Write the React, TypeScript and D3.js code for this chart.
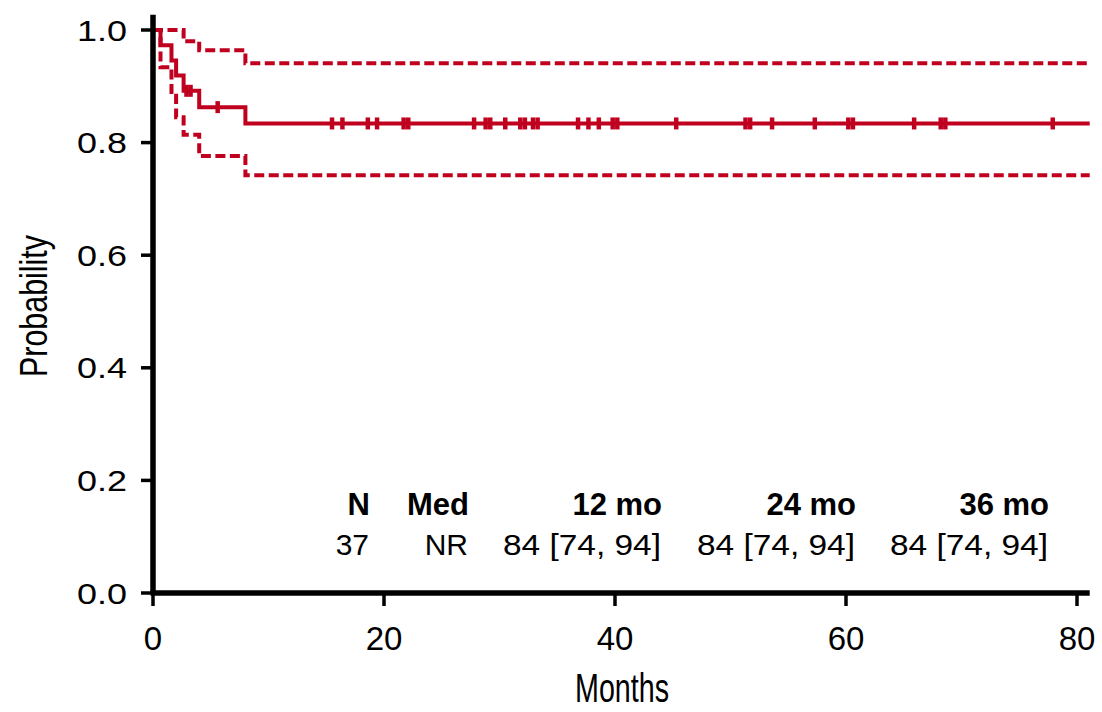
import React from 'react'
import * as d3 from 'd3'

// Kaplan-Meier estimate
const kmTimes = [0, 0.65, 1.6, 2.0, 2.65, 4.0, 8.0]
const kmSurv = [1.0, 0.973, 0.946, 0.919, 0.892, 0.863, 0.834]

const lowerTimes = [0, 0.65, 1.6, 2.0, 2.65, 4.0, 8.0]
const lowerSurv = [1.0, 0.934, 0.883, 0.845, 0.814, 0.776, 0.742]

const upperTimes = [0, 2.65, 4.0, 8.0]
const upperSurv = [1.0, 0.98, 0.964, 0.941]

// censored observations (months)
const censorTimes = [
  2.9, 3.25, 5.6, 15.5, 16.4, 18.6, 19.4, 21.7, 22.1, 27.8, 28.8, 29.2, 30.5,
  31.8, 32.2, 32.9, 33.3, 36.8, 37.7, 38.6, 39.8, 40.2, 45.3, 51.3, 51.7, 53.6,
  57.3, 60.2, 60.6, 65.9, 68.2, 68.6, 77.9
]

const xTicks = [0, 20, 40, 60, 80]
const yTicks = [0, 0.2, 0.4, 0.6, 0.8, 1.0]

const tableHeaders = ['N', 'Med', '12 mo', '24 mo', '36 mo']
const tableValues = ['37', 'NR', '84 [74, 94]', '84 [74, 94]', '84 [74, 94]']

const RED = '#C0001F'
const FONT = '"Liberation Sans", Arial, Helvetica, sans-serif'
const NARROW = '"Liberation Sans Narrow", "Arial Narrow", "Liberation Sans", sans-serif'

const W = 1102
const H = 712
const X_MAX = 81.1
const Y_MAX = 1.027

const x = d3.scaleLinear().domain([0, 80]).range([153, 1077])
const y = d3.scaleLinear().domain([0, 1]).range([593, 30])

const stepLine = d3
  .line<[number, number]>()
  .x(d => x(d[0]))
  .y(d => y(d[1]))
  .curve(d3.curveStepAfter)

function toPoints(times: number[], vals: number[]): [number, number][] {
  const pts: [number, number][] = times.map((t, i) => [t, vals[i]])
  pts.push([X_MAX, vals[vals.length - 1]])
  return pts
}

// survival value at time t from the step function
function survAt(t: number) {
  let v = kmSurv[0]
  kmTimes.forEach((tt, i) => {
    if (tt <= t) v = kmSurv[i]
  })
  return v
}

const colRight = [370, 469, 662, 856, 1049]

export default function App() {
  return (
    <svg
      width={W}
      height={H}
      style={{ position: 'absolute', left: 0, top: 0, background: '#fff' }}
    >
      {/* curves */}
      <path
        d={stepLine(toPoints(upperTimes, upperSurv)) || ''}
        fill="none"
        stroke={RED}
        strokeWidth={4}
        strokeDasharray="10 4.5"
      />
      <path
        d={stepLine(toPoints(lowerTimes, lowerSurv)) || ''}
        fill="none"
        stroke={RED}
        strokeWidth={4}
        strokeDasharray="10 4.5"
      />
      <path
        d={stepLine(toPoints(kmTimes, kmSurv)) || ''}
        fill="none"
        stroke={RED}
        strokeWidth={4}
      />
      {censorTimes.map((t, i) => (
        <line
          key={i}
          x1={x(t)}
          x2={x(t)}
          y1={y(survAt(t)) - 6}
          y2={y(survAt(t)) + 6}
          stroke={RED}
          strokeWidth={4.5}
        />
      ))}

      {/* y axis */}
      <line x1={x(0)} x2={x(0)} y1={y(Y_MAX)} y2={y(0)} stroke="#000" strokeWidth={5.5} />
      {yTicks.map(v => (
        <g key={v}>
          <line x1={x(0) - 12} x2={x(0)} y1={y(v)} y2={y(v)} stroke="#000" strokeWidth={3.5} />
          <text
            x={127}
            y={y(v) + 10.5}
            textAnchor="end"
            fontFamily={FONT}
            fontSize={30}
            textLength={50}
            lengthAdjust="spacingAndGlyphs"
          >
            {v.toFixed(1)}
          </text>
        </g>
      ))}

      {/* x axis */}
      <line x1={x(0) - 2.5} x2={x(X_MAX)} y1={y(0)} y2={y(0)} stroke="#000" strokeWidth={5.5} />
      {xTicks.map(v => (
        <g key={v}>
          <line x1={x(v)} x2={x(v)} y1={y(0)} y2={y(0) + 13} stroke="#000" strokeWidth={3.5} />
          <text x={x(v)} y={650} textAnchor="middle" fontFamily={FONT} fontSize={33}>
            {v}
          </text>
        </g>
      ))}

      {/* axis titles */}
      <text
        x={622}
        y={702}
        textAnchor="middle"
        fontFamily={NARROW}
        fontSize={40}
        textLength={94}
        lengthAdjust="spacingAndGlyphs"
      >
        Months
      </text>
      <text
        transform="translate(47,306) rotate(-90)"
        textAnchor="middle"
        fontFamily={NARROW}
        fontSize={38}
        textLength={142}
        lengthAdjust="spacingAndGlyphs"
      >
        Probability
      </text>

      {/* summary table */}
      {tableHeaders.map((h, i) => (
        <text
          key={'h' + i}
          x={colRight[i]}
          y={515}
          textAnchor="end"
          fontFamily={FONT}
          fontSize={31}
          fontWeight="bold"
        >
          {h}
        </text>
      ))}
      {tableValues.map((v, i) => (
        <text
          key={'v' + i}
          x={colRight[i] - 1}
          y={555}
          textAnchor="end"
          fontFamily={FONT}
          fontSize={30}
          {...(v.length > 4 ? { textLength: 158, lengthAdjust: 'spacingAndGlyphs' } : {})}
        >
          {v}
        </text>
      ))}
    </svg>
  )
}
